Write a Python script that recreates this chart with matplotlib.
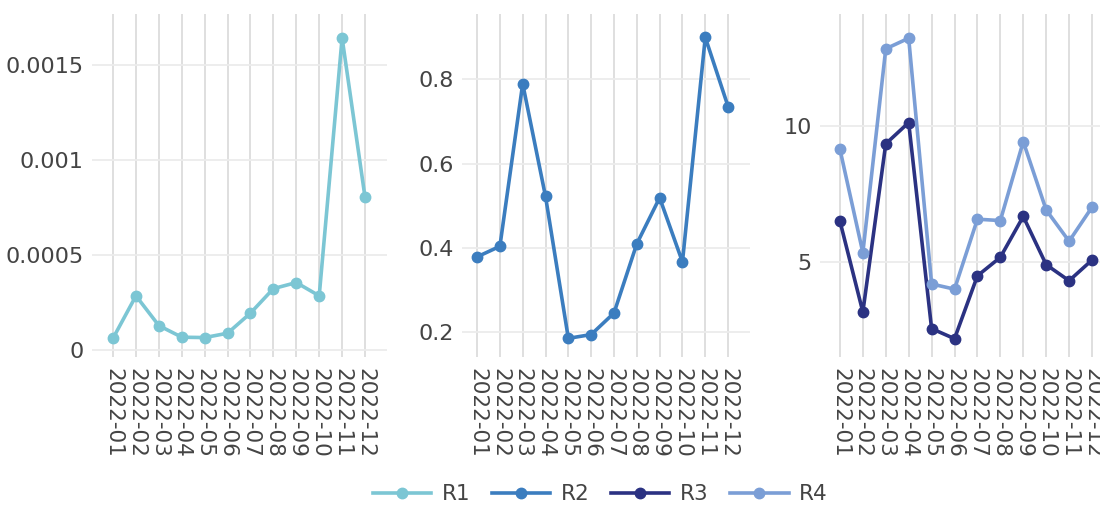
import matplotlib
matplotlib.use("Agg")
import matplotlib.pyplot as plt
from matplotlib.lines import Line2D

months = ["2022-01", "2022-02", "2022-03", "2022-04", "2022-05", "2022-06",
          "2022-07", "2022-08", "2022-09", "2022-10", "2022-11", "2022-12"]

r1 = [0.000062, 0.000285, 0.000128, 0.000067, 0.000065, 0.000088,
      0.000194, 0.000323, 0.000355, 0.000285, 0.001644, 0.000805]
r2 = [0.379, 0.404, 0.789, 0.522, 0.186, 0.195,
      0.246, 0.410, 0.519, 0.367, 0.899, 0.735]
r3 = [6.50, 3.16, 9.34, 10.12, 2.55, 2.18,
      4.49, 5.17, 6.67, 4.90, 4.31, 5.07]
r4 = [9.14, 5.34, 12.83, 13.22, 4.19, 4.00,
      6.57, 6.52, 9.42, 6.91, 5.76, 7.01]

colors = {"R1": "#7cc6d4", "R2": "#3b7dbf", "R3": "#2b3282", "R4": "#7b9ed6"}
text_col = "#444444"

plt.rcParams["font.family"] = ["DejaVu Sans"]

fig = plt.figure(figsize=(11, 5.07), dpi=100)

# axes boxes (figure fractions)
boxes = [
    [92 / 1100, 0.296, 295 / 1100, 0.677],
    [462 / 1100, 0.296, 288 / 1100, 0.677],
    [820 / 1100, 0.296, 294 / 1100, 0.677],
]
xlims = [(-0.92, 11.96), (-0.66, 11.96), (-0.87, 11.96)]
ylims = [(-0.000037, 0.001772), (0.142, 0.955), (1.51, 14.12)]
yticks = [[0, 0.0005, 0.001, 0.0015], [0.2, 0.4, 0.6, 0.8], [5, 10]]
ylabels = [["0", "0.0005", "0.001", "0.0015"], ["0.2", "0.4", "0.6", "0.8"], ["5", "10"]]
series = [[("R1", r1)], [("R2", r2)], [("R3", r3), ("R4", r4)]]

x = list(range(len(months)))
for i in range(3):
    ax = fig.add_axes(boxes[i])
    for name, vals in series[i]:
        ax.plot(x, vals, color=colors[name], lw=2.6, marker="o", ms=7.5,
                solid_joinstyle="round", zorder=3, clip_on=False)
    ax.set_xlim(*xlims[i])
    ax.set_ylim(*ylims[i])
    ax.set_xticks(x)
    ax.set_xticklabels(months, rotation=-90, fontsize=15.5, color=text_col)
    ax.set_yticks(yticks[i])
    ax.set_yticklabels(ylabels[i], fontsize=16, color=text_col)
    ax.tick_params(length=0, pad=6)
    ax.tick_params(axis="x", pad=8)
    for s in ax.spines.values():
        s.set_visible(False)
    ax.xaxis.grid(True, color="#dcdcdc", lw=1.3)
    ax.yaxis.grid(True, color="#ececec", lw=1.3)
    ax.set_axisbelow(True)

handles = [Line2D([0], [0], color=colors[n], lw=2.6, marker="o", ms=7.5)
           for n in ["R1", "R2", "R3", "R4"]]
leg = fig.legend(handles, ["R1", "R2", "R3", "R4"], loc="center",
                 bbox_to_anchor=(0.546, 0.025), ncol=4, frameon=False,
                 fontsize=15.5, handlelength=2.7, columnspacing=1.0, handletextpad=0.5)
for t in leg.get_texts():
    t.set_color(text_col)

fig.savefig("out.png", dpi=100)
